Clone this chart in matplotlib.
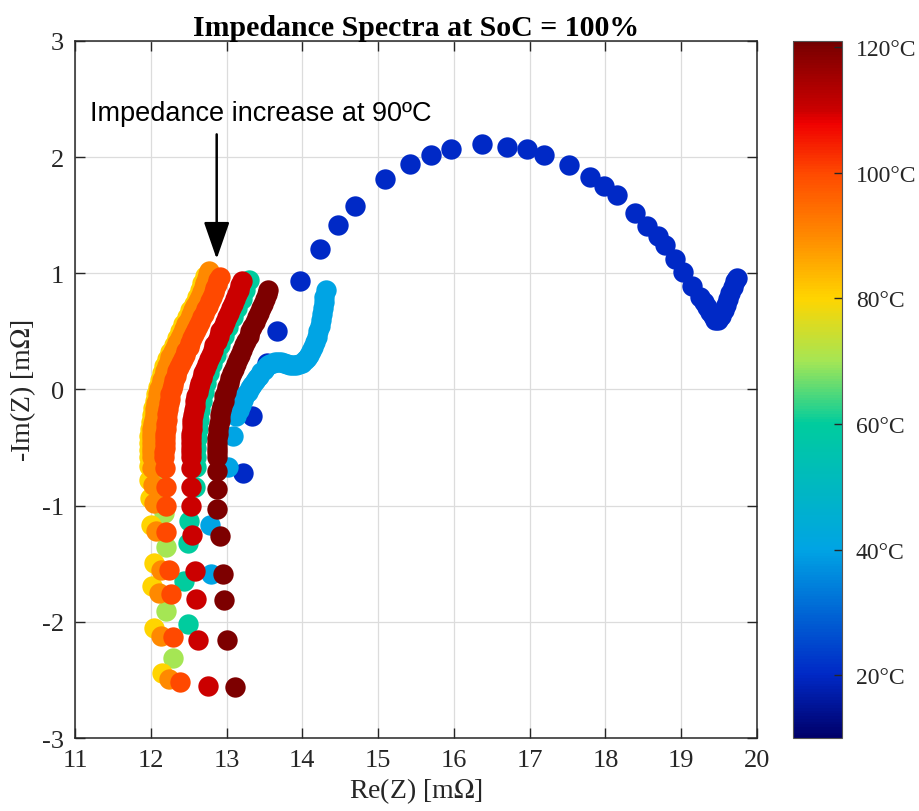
import matplotlib
matplotlib.use('Agg')
import matplotlib.pyplot as plt
from matplotlib.colors import LinearSegmentedColormap, Normalize
from matplotlib.cm import ScalarMappable

# temperatures of each spectrum (degC)
temps = [20, 40, 60, 70, 80, 90, 100, 110, 120]

# Re(Z) / -Im(Z) in mOhm
re_20 = [13.22, 13.34, 13.53, 13.67, 13.97, 14.23, 14.47, 14.69, 15.09, 15.42, 15.70,
         15.96, 16.37, 16.70, 16.96, 17.19, 17.52, 17.79, 17.98, 18.15, 18.39, 18.55,
         18.70, 18.78, 18.92, 19.02, 19.14, 19.25, 19.30, 19.34, 19.38, 19.42, 19.45,
         19.48, 19.52, 19.56, 19.59, 19.62, 19.65, 19.68, 19.71, 19.73]
im_20 = [-0.72, -0.23, 0.23, 0.50, 0.93, 1.21, 1.42, 1.58, 1.81, 1.94, 2.02,
         2.07, 2.11, 2.09, 2.07, 2.02, 1.93, 1.83, 1.75, 1.67, 1.52, 1.41,
         1.32, 1.24, 1.12, 1.01, 0.89, 0.80, 0.75, 0.71, 0.67, 0.63, 0.60,
         0.60, 0.63, 0.68, 0.73, 0.78, 0.83, 0.88, 0.93, 0.96]

re_40 = [12.80, 12.78, 13.02, 13.08, 13.13, 13.16, 13.19, 13.22, 13.25, 13.28, 13.31,
         13.34, 13.37, 13.40, 13.43, 13.46, 13.49, 13.52, 13.55, 13.58, 13.61, 13.64,
         13.68, 13.72, 13.76, 13.80, 13.84, 13.88, 13.92, 13.96, 14.00, 14.03, 14.06,
         14.09, 14.12, 14.14, 14.17, 14.19, 14.21, 14.23, 14.25, 14.26, 14.27, 14.28,
         14.29, 14.31]
im_40 = [-1.59, -1.17, -0.67, -0.40, -0.23, -0.18, -0.13, -0.09, -0.05, -0.02, 0.01,
         0.04, 0.07, 0.10, 0.12, 0.15, 0.17, 0.19, 0.21, 0.22, 0.23, 0.24,
         0.24, 0.24, 0.23, 0.22, 0.21, 0.21, 0.21, 0.22, 0.23, 0.25, 0.27,
         0.30, 0.33, 0.37, 0.41, 0.45, 0.50, 0.55, 0.60, 0.65, 0.70, 0.75,
         0.80, 0.86]

re_60 = [12.49, 12.44, 12.49, 12.51, 12.58, 12.60, 12.60, 12.60, 12.61, 12.62, 12.63,
         12.65, 12.67, 12.70, 12.73, 12.77, 12.81, 12.86, 12.91, 12.96, 13.02, 13.08,
         13.14, 13.20, 13.25, 13.29]
im_60 = [-2.02, -1.65, -1.32, -1.13, -0.84, -0.67, -0.58, -0.50, -0.42, -0.34, -0.26,
         -0.18, -0.10, -0.02, 0.06, 0.14, 0.22, 0.30, 0.38, 0.46, 0.54, 0.62,
         0.70, 0.78, 0.86, 0.94]

re_70 = [12.29, 12.20, 12.20, 12.18, 12.13, 12.12, 12.12, 12.13, 12.15, 12.18, 12.22,
         12.27, 12.33, 12.39, 12.45, 12.51, 12.57, 12.63, 12.68, 12.73]
im_70 = [-2.31, -1.91, -1.36, -1.06, -0.85, -0.70, -0.55, -0.40, -0.25, -0.10, 0.03,
         0.15, 0.27, 0.38, 0.49, 0.60, 0.70, 0.80, 0.88, 0.95]

re_80 = [12.15, 12.04, 12.02, 12.04, 12.00, 11.99, 11.98, 11.98, 11.98, 11.98, 11.98,
         11.98, 11.99, 12.00, 12.01, 12.03, 12.05, 12.07, 12.09, 12.12, 12.15, 12.18,
         12.22, 12.26, 12.30, 12.35, 12.39, 12.43, 12.48, 12.52, 12.57, 12.61, 12.65,
         12.68, 12.71]
im_80 = [-2.44, -2.05, -1.69, -1.49, -1.17, -0.93, -0.78, -0.66, -0.58, -0.52, -0.46,
         -0.40, -0.34, -0.28, -0.22, -0.16, -0.10, -0.04, 0.02, 0.08, 0.14, 0.20,
         0.26, 0.32, 0.38, 0.44, 0.50, 0.56, 0.62, 0.68, 0.74, 0.80, 0.86,
         0.92, 0.98]

re_90 = [12.24, 12.13, 12.11, 12.13, 12.07, 12.04, 12.03, 12.02, 12.01, 12.01, 12.01,
         12.01, 12.01, 12.02, 12.02, 12.03, 12.04, 12.05, 12.06, 12.07, 12.09, 12.10,
         12.11, 12.13, 12.15, 12.17, 12.19, 12.21, 12.24, 12.26, 12.29, 12.32, 12.35,
         12.38, 12.41, 12.44, 12.47, 12.50, 12.53, 12.56, 12.59, 12.62, 12.65, 12.68,
         12.70, 12.72, 12.74, 12.76, 12.77]
im_90 = [-2.49, -2.12, -1.75, -1.55, -1.22, -0.98, -0.82, -0.68, -0.58, -0.54, -0.50,
         -0.46, -0.42, -0.38, -0.34, -0.30, -0.26, -0.21, -0.17, -0.12, -0.08, -0.04,
         0.00, 0.04, 0.08, 0.12, 0.16, 0.20, 0.24, 0.28, 0.32, 0.36, 0.40,
         0.44, 0.48, 0.52, 0.56, 0.60, 0.64, 0.68, 0.72, 0.76, 0.80, 0.84,
         0.88, 0.92, 0.96, 0.99, 1.02]

re_100 = [12.38, 12.29, 12.27, 12.24, 12.20, 12.20, 12.20, 12.19, 12.18, 12.18, 12.19,
          12.19, 12.19, 12.19, 12.20, 12.20, 12.21, 12.22, 12.23, 12.24, 12.25, 12.26,
          12.28, 12.29, 12.31, 12.33, 12.35, 12.37, 12.40, 12.42, 12.45, 12.47, 12.50,
          12.52, 12.55, 12.57, 12.60, 12.62, 12.65, 12.68, 12.70, 12.73, 12.75, 12.78,
          12.81, 12.83, 12.85, 12.87, 12.89, 12.91]
im_100 = [-2.52, -2.13, -1.76, -1.55, -1.23, -1.00, -0.84, -0.68, -0.58, -0.54, -0.50,
          -0.46, -0.42, -0.38, -0.34, -0.30, -0.26, -0.21, -0.17, -0.12, -0.08, -0.04,
          0.00, 0.04, 0.08, 0.12, 0.16, 0.19, 0.23, 0.26, 0.30, 0.33, 0.37,
          0.40, 0.44, 0.48, 0.51, 0.55, 0.58, 0.62, 0.65, 0.69, 0.72, 0.76,
          0.80, 0.84, 0.87, 0.91, 0.94, 0.97]

re_110 = [12.75, 12.62, 12.60, 12.58, 12.55, 12.53, 12.53, 12.53, 12.53, 12.53, 12.53,
          12.53, 12.53, 12.53, 12.54, 12.54, 12.55, 12.56, 12.57, 12.58, 12.59, 12.60,
          12.62, 12.63, 12.65, 12.67, 12.69, 12.72, 12.74, 12.77, 12.79, 12.82, 12.84,
          12.87, 12.90, 12.92, 12.95, 12.98, 13.00, 13.03, 13.06, 13.09, 13.11, 13.14,
          13.16, 13.18, 13.20]
im_110 = [-2.55, -2.16, -1.80, -1.56, -1.25, -1.00, -0.84, -0.68, -0.58, -0.54, -0.50,
          -0.46, -0.42, -0.38, -0.34, -0.30, -0.26, -0.22, -0.18, -0.14, -0.10, -0.06,
          -0.02, 0.02, 0.06, 0.10, 0.14, 0.18, 0.22, 0.26, 0.30, 0.34, 0.38,
          0.42, 0.46, 0.50, 0.54, 0.58, 0.62, 0.66, 0.70, 0.74, 0.78, 0.82,
          0.86, 0.90, 0.93]

re_120 = [13.11, 13.00, 12.97, 12.95, 12.91, 12.88, 12.88, 12.88, 12.88, 12.88, 12.88,
          12.88, 12.88, 12.89, 12.89, 12.90, 12.91, 12.92, 12.93, 12.94, 12.96, 12.97,
          12.99, 13.01, 13.03, 13.05, 13.07, 13.10, 13.12, 13.15, 13.18, 13.20, 13.23,
          13.26, 13.29, 13.31, 13.34, 13.37, 13.40, 13.43, 13.45, 13.48, 13.51, 13.53,
          13.55]
im_120 = [-2.56, -2.16, -1.81, -1.59, -1.26, -1.03, -0.86, -0.70, -0.58, -0.54, -0.50,
          -0.46, -0.42, -0.38, -0.34, -0.30, -0.26, -0.22, -0.18, -0.14, -0.10, -0.06,
          -0.02, 0.02, 0.06, 0.10, 0.14, 0.18, 0.22, 0.26, 0.30, 0.34, 0.38,
          0.42, 0.46, 0.50, 0.54, 0.58, 0.62, 0.66, 0.70, 0.74, 0.78, 0.82,
          0.86]

re_all = [re_20, re_40, re_60, re_70, re_80, re_90, re_100, re_110, re_120]
im_all = [im_20, im_40, im_60, im_70, im_80, im_90, im_100, im_110, im_120]

cbar_ticks = [20, 40, 60, 80, 100, 120]

# colormap built from the colours seen in the figure
t_min, t_max = 10, 121
nodes = [(10, '#00006A'), (20, '#0029C6'), (40, '#00A4E4'), (60, '#00CC9E'),
         (70, '#A4E655'), (80, '#FFD500'), (90, '#FF8A00'), (100, '#FF4A00'),
         (108, '#F00000'), (110, '#CC0000'), (120, '#7F0000'), (121, '#700000')]
cmap = LinearSegmentedColormap.from_list(
    'spectra', [((t - t_min) / (t_max - t_min), c) for t, c in nodes])
norm = Normalize(vmin=t_min, vmax=t_max)

plt.rcParams['font.family'] = 'Liberation Serif'
plt.rcParams['mathtext.fontset'] = 'stix'
plt.rcParams['axes.unicode_minus'] = False

fig = plt.figure(figsize=(9.19, 8.12), dpi=100)
ax = fig.add_axes([0.0816, 0.0899, 0.7421, 0.8584])
cax = fig.add_axes([0.863, 0.0899, 0.053, 0.8584])

for t, re, im in zip(temps, re_all, im_all):
    ax.scatter(re, im, s=215, color=cmap(norm(t)), linewidths=0, zorder=3)

ax.set_xlim(11, 20)
ax.set_ylim(-3, 3)
ax.set_xticks(range(11, 21))
ax.set_yticks(range(-3, 4))
ax.grid(True, color='#dcdcdc', linewidth=0.9, zorder=0)
ax.set_axisbelow(True)
ax.tick_params(direction='in', length=7, width=1, top=True, right=True,
               labelsize=19, colors='#262626', pad=8)
for sp in ax.spines.values():
    sp.set_color('#262626')
    sp.set_linewidth(1.1)

ax.set_xlabel('Re(Z) [m$\\Omega$]', fontsize=20, color='#262626', labelpad=3)
ax.set_ylabel('-Im(Z) [m$\\Omega$]', fontsize=20, color='#262626', labelpad=3)
ax.set_title('Impedance Spectra at SoC = 100%', fontsize=21.5, fontweight='bold', pad=4)

ax.annotate('', xy=(12.87, 1.10), xytext=(12.87, 2.22),
            arrowprops=dict(arrowstyle='-|>,head_length=1.15,head_width=0.4',
                            color='black', lw=1.8, mutation_scale=20))
ax.text(11.2, 2.38, 'Impedance increase at 90ºC', fontsize=19.5,
        family='Liberation Sans', va='center', ha='left')

cb = fig.colorbar(ScalarMappable(norm=norm, cmap=cmap), cax=cax, ticks=cbar_ticks)
cb.ax.set_yticklabels([f'{t}°C' for t in cbar_ticks])
cb.ax.tick_params(direction='in', length=6, width=1, labelsize=17, pad=10,
                  colors='#262626')
cb.outline.set_edgecolor('#555555')

plt.savefig('out.png', dpi=100)
